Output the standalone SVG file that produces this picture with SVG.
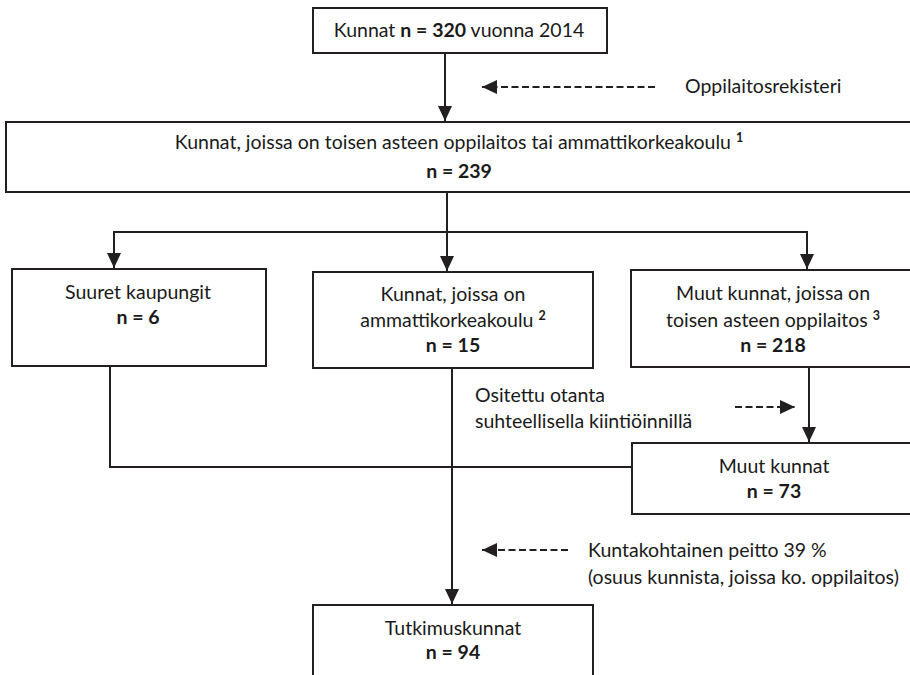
<svg xmlns="http://www.w3.org/2000/svg" width="910" height="675" viewBox="0 0 910 675">
  <style>
    .box { fill: #ffffff; stroke: #231f20; stroke-width: 2; }
    .ln { fill: none; stroke: #231f20; stroke-width: 2; }
    .dash { fill: none; stroke: #231f20; stroke-width: 2.2; stroke-dasharray: 7 3.5; }
    text { font-family: Lato, "Open Sans", sans-serif; font-size: 19.5px; fill: #1a1a1a; }
    .c { text-anchor: middle; }
    .b { font-weight: bold; }
    .sup { font-size: 12.5px; font-weight: bold; }
  </style>
  <defs>
    <marker id="ah" markerUnits="userSpaceOnUse" markerWidth="16" markerHeight="15" refX="15" refY="7" orient="auto">
      <path d="M0,0 L15,7 L0,14 z" fill="#231f20"/>
    </marker>
  </defs>
  <rect width="910" height="675" fill="#ffffff"/>

  <g id="connectors">
    <line class="ln" x1="445" y1="53" x2="445" y2="121" marker-end="url(#ah)"/>
    <line class="dash" x1="655" y1="87" x2="482" y2="87" marker-end="url(#ah)"/>
    <line class="ln" x1="447" y1="192" x2="447" y2="232"/>
    <line class="ln" x1="114" y1="232" x2="807" y2="232"/>
    <line class="ln" x1="114" y1="231" x2="114" y2="268" marker-end="url(#ah)"/>
    <line class="ln" x1="447" y1="232" x2="447" y2="271" marker-end="url(#ah)"/>
    <line class="ln" x1="807" y1="231" x2="807" y2="269" marker-end="url(#ah)"/>
    <polyline class="ln" points="110,366 110,467 632,467"/>
    <line class="ln" x1="452" y1="368" x2="452" y2="604" marker-end="url(#ah)"/>
    <line class="ln" x1="809" y1="367" x2="809" y2="442" marker-end="url(#ah)"/>
    <line class="dash" x1="735" y1="407" x2="795" y2="407" marker-end="url(#ah)"/>
    <line class="dash" x1="568" y1="550" x2="482" y2="550" marker-end="url(#ah)"/>
  </g>

  <g id="n-kunnat">
    <rect class="box" x="313" y="8" width="294" height="45"/>
    <text class="c" x="459" y="37">Kunnat <tspan class="b">n = 320</tspan> vuonna 2014</text>
  </g>

  <g id="lbl-oppilaitosrekisteri">
    <text x="685" y="93">Oppilaitosrekisteri</text>
  </g>

  <g id="n-kunnat-239">
    <rect class="box" x="6" y="122" width="910" height="70"/>
    <text class="c" x="459" y="149">Kunnat, joissa on toisen asteen oppilaitos tai ammattikorkeakoulu <tspan class="sup" dy="-7">1</tspan></text>
    <text class="c b" x="459" y="178">n = 239</text>
  </g>

  <g id="n-suuret">
    <rect class="box" x="12" y="269" width="254" height="97"/>
    <text class="c" x="138" y="299">Suuret kaupungit</text>
    <text class="c b" x="138" y="324">n = 6</text>
  </g>

  <g id="n-amk">
    <rect class="box" x="313" y="272" width="280" height="96"/>
    <text class="c" x="453" y="301">Kunnat, joissa on</text>
    <text class="c" x="453" y="327">ammattikorkeakoulu <tspan class="sup" dy="-7">2</tspan></text>
    <text class="c b" x="453" y="352">n = 15</text>
  </g>

  <g id="n-muut-218">
    <rect class="box" x="631" y="270" width="290" height="97"/>
    <text class="c" x="773" y="300">Muut kunnat, joissa on</text>
    <text class="c" x="773" y="327">toisen asteen oppilaitos <tspan class="sup" dy="-7">3</tspan></text>
    <text class="c b" x="773" y="352">n = 218</text>
  </g>

  <g id="lbl-ositettu">
    <text x="475" y="402">Ositettu otanta</text>
    <text x="475" y="428">suhteellisella kiintiöinnillä</text>
  </g>

  <g id="n-muut-73">
    <rect class="box" x="632" y="443" width="290" height="71"/>
    <text class="c" x="774" y="473">Muut kunnat</text>
    <text class="c b" x="774" y="498">n = 73</text>
  </g>

  <g id="lbl-peitto">
    <text x="588" y="557">Kuntakohtainen peitto 39 %</text>
    <text x="588" y="584">(osuus kunnista, joissa ko. oppilaitos)</text>
  </g>

  <g id="n-tutkimuskunnat">
    <rect class="box" x="313" y="605" width="280" height="90"/>
    <text class="c" x="453" y="635">Tutkimuskunnat</text>
    <text class="c b" x="453" y="659">n = 94</text>
  </g>
</svg>
